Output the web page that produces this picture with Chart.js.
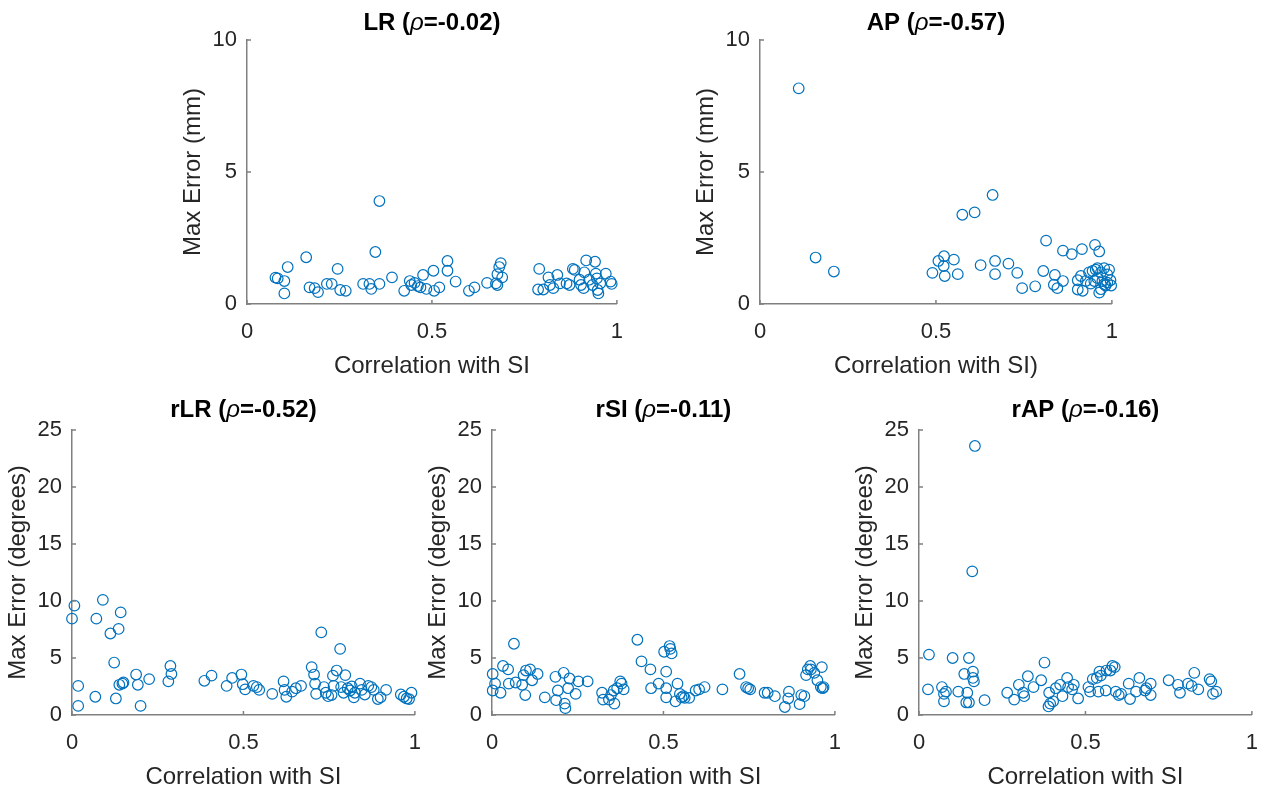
<!DOCTYPE html>
<html>
<head>
<meta charset="utf-8">
<script src="https://cdn.jsdelivr.net/npm/chart.js@4"></script>
<style>
  html, body { margin:0; padding:0; background:#fff; }
  body { width:1276px; height:796px; position:relative; overflow:hidden; }
  canvas { position:absolute; }
</style>
</head>
<body>
<canvas id="cLR"></canvas>
<canvas id="cAP"></canvas>
<canvas id="cRLR"></canvas>
<canvas id="cRSI"></canvas>
<canvas id="cRAP"></canvas>
<script>
// ---------- data ----------
const xTicks = [0, 0.5, 1];
const yTicksMm = [0, 5, 10];
const yTicksDeg = [0, 5, 10, 15, 20, 25];

const titleLR = ['LR (', 'ρ', '=-0.02)'];
const titleAP = ['AP (', 'ρ', '=-0.57)'];
const titleRLR = ['rLR (', 'ρ', '=-0.52)'];
const titleRSI = ['rSI (', 'ρ', '=-0.11)'];
const titleRAP = ['rAP (', 'ρ', '=-0.16)'];

const xLabel = 'Correlation with SI';
const xLabelAP = 'Correlation with SI)';
const yLabelMm = 'Max Error (mm)';
const yLabelDeg = 'Max Error (degrees)';

const lrX = [0.077,0.083,0.101,0.11,0.101,0.16,0.169,0.183,0.192,0.216,0.229,0.245,0.252,0.267,0.314,0.331,0.336,0.358,0.347,0.358,0.392,0.425,0.44,0.444,0.453,0.462,0.469,0.476,0.485,0.504,0.506,0.52,0.542,0.542,0.564,0.6,0.615,0.649,0.673,0.677,0.682,0.686,0.69,0.677,0.79,0.787,0.801,0.815,0.819,0.828,0.839,0.846,0.864,0.872,0.881,0.886,0.899,0.903,0.91,0.912,0.917,0.925,0.934,0.941,0.943,0.946,0.948,0.95,0.955,0.97,0.983,0.986];
const lrY = [1.0,0.97,0.87,1.4,0.4,1.77,0.63,0.6,0.45,0.76,0.76,1.33,0.53,0.5,0.76,0.76,0.57,0.76,1.97,3.9,1.01,0.5,0.87,0.72,0.8,0.68,0.63,1.1,0.57,1.26,0.5,0.63,1.63,1.26,0.85,0.5,0.63,0.8,0.78,1.13,1.4,1.55,1.01,0.72,1.33,0.55,0.55,1.01,0.72,0.6,1.1,0.78,0.78,0.72,1.33,1.29,0.92,0.72,0.6,1.2,1.65,0.92,0.72,1.6,1.15,0.97,0.53,0.4,0.78,1.15,0.85,0.76];

const apX = [0.11,0.158,0.21,0.49,0.507,0.523,0.522,0.525,0.551,0.562,0.575,0.61,0.661,0.627,0.668,0.668,0.706,0.731,0.745,0.782,0.805,0.813,0.838,0.835,0.845,0.861,0.861,0.886,0.915,0.903,0.903,0.917,0.912,0.926,0.935,0.94,0.952,0.964,0.954,0.959,0.964,0.969,0.973,0.978,0.982,0.987,0.992,0.996,0.998,0.95,0.945,0.969,0.978,0.959,0.987];
const apY = [8.17,1.76,1.23,1.18,1.63,1.81,1.44,1.06,1.68,1.13,3.38,3.47,4.13,1.47,1.63,1.13,1.53,1.18,0.6,0.67,1.25,2.4,1.1,0.73,0.6,2.02,0.87,1.89,2.08,0.9,0.55,0.5,1.06,0.87,1.2,0.77,2.24,1.99,1.3,0.98,0.43,1.2,0.87,1.36,0.7,1.12,1.3,0.9,0.7,0.87,1.25,0.56,0.75,1.36,0.81];

const rlrX = [0.007,0.0,0.018,0.018,0.071,0.068,0.09,0.112,0.136,0.142,0.123,0.128,0.138,0.147,0.15,0.187,0.192,0.2,0.225,0.281,0.287,0.29,0.386,0.407,0.451,0.467,0.494,0.498,0.505,0.529,0.539,0.546,0.584,0.617,0.62,0.625,0.642,0.653,0.668,0.699,0.706,0.709,0.712,0.727,0.735,0.74,0.747,0.757,0.761,0.763,0.772,0.782,0.785,0.792,0.797,0.804,0.811,0.816,0.822,0.825,0.84,0.845,0.854,0.864,0.873,0.88,0.892,0.9,0.916,0.959,0.968,0.976,0.983,0.99];
const rlrY = [9.6,8.45,2.55,0.8,8.45,1.6,10.1,7.15,7.55,9.0,4.6,1.45,2.65,2.75,2.85,3.55,2.65,0.8,3.15,2.95,4.3,3.6,3.0,3.45,2.55,3.25,3.55,2.7,2.25,2.55,2.45,2.2,1.85,2.95,2.2,1.6,2.05,2.35,2.55,4.2,3.55,2.75,1.85,7.25,2.45,1.95,1.65,1.75,3.45,2.55,3.9,5.8,2.45,1.95,3.5,2.35,2.15,2.5,1.55,1.95,2.75,2.2,1.8,2.55,2.45,2.2,1.4,1.55,2.2,1.8,1.6,1.45,1.4,1.95];

const rsiX = [0.002,0.009,0.002,0.025,0.032,0.047,0.049,0.064,0.069,0.088,0.092,0.097,0.099,0.111,0.117,0.133,0.154,0.185,0.192,0.187,0.209,0.212,0.214,0.222,0.226,0.244,0.252,0.279,0.321,0.324,0.341,0.347,0.355,0.357,0.365,0.374,0.378,0.384,0.424,0.436,0.462,0.464,0.486,0.502,0.508,0.508,0.508,0.518,0.52,0.524,0.535,0.541,0.548,0.553,0.558,0.562,0.575,0.594,0.604,0.62,0.672,0.722,0.741,0.747,0.753,0.795,0.804,0.825,0.854,0.864,0.866,0.897,0.902,0.911,0.916,0.921,0.928,0.93,0.94,0.949,0.962,0.959,0.964,0.967];
const rsiY = [3.6,2.75,2.15,1.95,4.3,4.0,2.75,6.25,2.85,2.65,3.5,1.75,3.9,4.0,3.05,3.6,1.55,3.35,2.15,1.3,3.7,1.0,0.6,2.35,3.2,1.85,2.95,2.95,1.95,1.35,1.35,1.75,2.15,1.0,2.35,2.95,2.75,2.25,6.6,4.7,4.0,2.35,2.75,5.55,3.8,2.35,1.55,6.05,5.8,5.4,1.2,2.75,1.85,1.55,1.65,1.5,1.5,2.15,2.25,2.45,2.25,3.6,2.45,2.35,2.25,1.95,1.95,1.65,0.7,1.45,2.05,0.95,1.75,1.65,3.5,4.0,4.3,4.0,3.7,3.05,4.2,2.45,2.35,2.45];

const rapX = [0.03,0.027,0.069,0.075,0.075,0.081,0.101,0.118,0.136,0.145,0.142,0.15,0.15,0.162,0.162,0.165,0.197,0.265,0.286,0.3,0.313,0.316,0.327,0.344,0.367,0.377,0.391,0.394,0.389,0.403,0.411,0.424,0.431,0.445,0.448,0.46,0.465,0.478,0.509,0.514,0.522,0.534,0.542,0.546,0.539,0.561,0.563,0.575,0.581,0.588,0.591,0.6,0.607,0.63,0.634,0.652,0.662,0.679,0.683,0.696,0.696,0.75,0.778,0.784,0.808,0.819,0.827,0.839,0.873,0.878,0.883,0.893,0.168,0.16];
const rapY = [5.3,2.25,2.45,1.85,1.2,2.05,5.0,2.05,3.6,1.95,1.1,1.1,5.0,3.8,3.25,2.95,1.3,1.95,1.35,2.65,1.95,1.65,3.4,2.45,3.05,4.6,1.95,1.0,0.75,1.2,2.35,2.65,1.65,3.25,2.45,2.25,2.65,1.45,2.45,2.05,3.15,3.25,3.8,3.45,2.05,2.15,3.9,3.9,4.3,4.2,2.05,1.75,1.85,2.75,1.4,2.05,3.25,2.15,2.35,2.75,1.75,3.05,2.65,1.95,2.75,2.55,3.7,2.25,3.15,2.95,1.85,2.05,23.6,12.6];

// ---------- drawing ----------
const FONT = "'Liberation Sans', Arial, Helvetica, sans-serif";
const TICK_COLOR = '#262626';
const AXIS_COLOR = '#808080';
const MARK_COLOR = '#0072BD';
const YW = 75, XH = 80, TOP = 40, RP = 15;

const segTitle = {
  id: 'segTitle',
  afterDraw(chart, args, opts) {
    const ctx = chart.ctx;
    const parts = opts.parts;
    const fonts = ['bold 24px ' + FONT, 'italic 24px ' + FONT, 'bold 24px ' + FONT];
    ctx.save();
    let total = 0;
    const widths = parts.map((p, i) => { ctx.font = fonts[i]; const w = ctx.measureText(p).width; total += w; return w; });
    const ca = chart.chartArea;
    let x = (ca.left + ca.right) / 2 - total / 2;
    const y = ca.top - opts.gap;
    ctx.fillStyle = '#000';
    ctx.textBaseline = 'middle';
    ctx.textAlign = 'left';
    parts.forEach((p, i) => { ctx.font = fonts[i]; ctx.fillText(p, x, y); x += widths[i]; });
    ctx.restore();
  }
};

const inTicks = {
  id: 'inTicks',
  afterDraw(chart) {
    const ctx = chart.ctx;
    const xs = chart.scales.x, ys = chart.scales.y;
    const ca = chart.chartArea;
    ctx.save();
    ctx.strokeStyle = AXIS_COLOR;
    ctx.lineWidth = 1.5;
    ctx.beginPath();
    xs.ticks.forEach(t => { const p = xs.getPixelForValue(t.value); ctx.moveTo(p, ca.bottom); ctx.lineTo(p, ca.bottom - 4); });
    ys.ticks.forEach(t => { const p = ys.getPixelForValue(t.value); ctx.moveTo(ca.left, p); ctx.lineTo(ca.left + 4, p); });
    ctx.stroke();
    ctx.restore();
  }
};

function makePlot(id, area, xs, ys, yTicks, yMax, titleParts, xTitle, yTitle, gap) {
  const cv = document.getElementById(id);
  const w = (area.r - area.l) + YW + RP;
  const h = (area.b - area.t) + TOP + XH;
  cv.width = w; cv.height = h;
  cv.style.left = (area.l - YW) + 'px';
  cv.style.top = (area.t - TOP) + 'px';
  cv.style.width = w + 'px'; cv.style.height = h + 'px';
  const pts = xs.map((x, i) => ({ x: x, y: ys[i] }));
  new Chart(cv, {
    type: 'scatter',
    data: { datasets: [{
      data: pts,
      pointStyle: 'circle',
      pointRadius: 5.3,
      pointHoverRadius: 5.3,
      borderWidth: 1.2,
      borderColor: MARK_COLOR,
      backgroundColor: 'rgba(0,0,0,0)',
      clip: false
    }]},
    options: {
      responsive: false,
      animation: false,
      devicePixelRatio: 1,
      layout: { padding: { top: TOP, right: RP, left: 0, bottom: 0 } },
      plugins: { legend: { display: false }, tooltip: { enabled: false }, segTitle: { parts: titleParts, gap: gap } },
      scales: {
        x: {
          type: 'linear', min: 0, max: 1,
          afterBuildTicks: s => { s.ticks = xTicks.map(v => ({ value: v })); },
          afterFit: s => { s.height = XH; },
          grid: { display: true, drawOnChartArea: false, drawTicks: false },
          border: { display: true, color: AXIS_COLOR, width: 1.5 },
          ticks: { color: TICK_COLOR, font: { family: FONT, size: 22 }, padding: 15, maxRotation: 0, callback: v => String(v) },
          title: { display: true, text: xTitle, color: TICK_COLOR, font: { family: FONT, size: 24 }, padding: { top: 0, bottom: 3 } }
        },
        y: {
          type: 'linear', min: 0, max: yMax,
          afterBuildTicks: s => { s.ticks = yTicks.map(v => ({ value: v })); },
          afterFit: s => { s.width = YW; },
          grid: { display: true, drawOnChartArea: false, drawTicks: false },
          border: { display: true, color: AXIS_COLOR, width: 1.5 },
          ticks: { color: TICK_COLOR, font: { family: FONT, size: 22 }, padding: 10, callback: v => String(v) },
          title: { display: true, text: yTitle, color: TICK_COLOR, font: { family: FONT, size: 24 }, padding: { top: 7, bottom: 0 } }
        }
      }
    },
    plugins: [segTitle, inTicks]
  });
}

makePlot('cLR',  { l: 247, t: 40,  r: 623,  b: 304 }, lrX,  lrY,  yTicksMm,  10, titleLR,  xLabel,   yLabelMm,  17);
makePlot('cAP',  { l: 760, t: 40,  r: 1118, b: 304 }, apX,  apY,  yTicksMm,  10, titleAP,  xLabelAP, yLabelMm,  17);
makePlot('cRLR', { l: 72,  t: 430, r: 421,  b: 715 }, rlrX, rlrY, yTicksDeg, 25, titleRLR, xLabel,   yLabelDeg, 20);
makePlot('cRSI', { l: 492, t: 430, r: 841,  b: 715 }, rsiX, rsiY, yTicksDeg, 25, titleRSI, xLabel,   yLabelDeg, 20);
makePlot('cRAP', { l: 919, t: 430, r: 1258, b: 715 }, rapX, rapY, yTicksDeg, 25, titleRAP, xLabel,   yLabelDeg, 20);
</script>
</body>
</html>
